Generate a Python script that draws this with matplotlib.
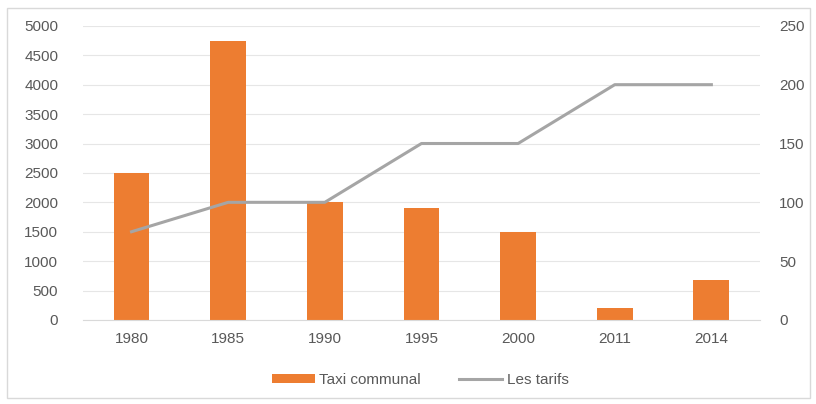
import matplotlib.pyplot as plt
from matplotlib.patches import Rectangle

years = ['1980', '1985', '1990', '1995', '2000', '2011', '2014']
taxi = [2500, 4750, 2000, 1900, 1500, 200, 680]
tarifs = [75, 100, 100, 150, 150, 200, 200]

orange = '#ED7D31'
grey = '#A5A5A5'
txt = '#595959'

plt.rcParams['font.family'] = ['Liberation Sans', 'DejaVu Sans']

fig = plt.figure(figsize=(8.16, 4.04), dpi=100)
fig.patches.append(Rectangle((0.008, 0.015), 0.985, 0.965, transform=fig.transFigure,
                             fill=False, edgecolor='#D9D9D9', linewidth=1))

ax = fig.add_axes([0.102, 0.208, 0.829, 0.728])
x = list(range(len(years)))
b = ax.bar(x, taxi, width=0.37, color=orange, label='Taxi communal', zorder=2)
ax.set_ylim(0, 5000)
ax.set_yticks(range(0, 5001, 500))
ax.set_xlim(-0.5, len(years) - 0.5)
ax.set_xticks(x)
ax.set_xticklabels(years)
ax.grid(axis='y', color='#E6E6E6', linewidth=0.8, zorder=0)
for s in ax.spines.values():
    s.set_visible(False)
ax.spines['bottom'].set_visible(True)
ax.spines['bottom'].set_color('#D9D9D9')
ax.tick_params(length=0, colors=txt, labelsize=11)
ax.tick_params(axis='y', pad=18)
ax.tick_params(axis='x', pad=9)

ax2 = ax.twinx()
l, = ax2.plot(x, tarifs, color=grey, linewidth=2.2, label='Les tarifs', zorder=3)
ax2.set_ylim(0, 250)
ax2.set_yticks(range(0, 251, 50))
for s in ax2.spines.values():
    s.set_visible(False)
ax2.tick_params(length=0, colors=txt, labelsize=11, pad=14)

fig.legend([b, l], ['Taxi communal', 'Les tarifs'], loc='center', bbox_to_anchor=(0.515, 0.06),
           ncol=2, frameon=False, fontsize=11, labelcolor=txt, handlelength=2.8,
           handleheight=0.5, columnspacing=2.5, handletextpad=0.3)

fig.savefig('out.png', dpi=100)
